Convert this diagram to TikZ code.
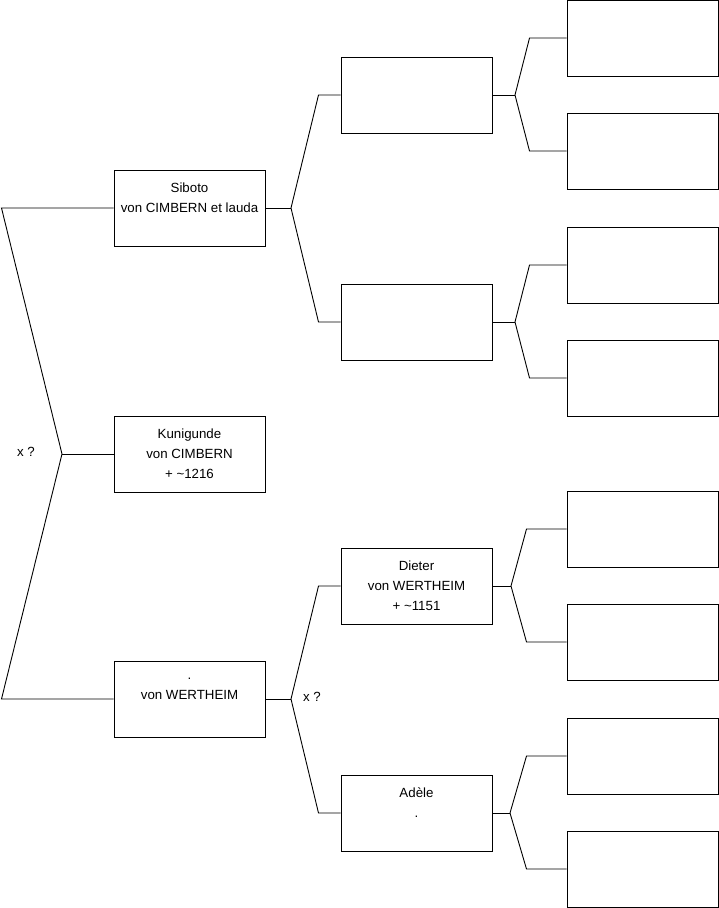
\documentclass[tikz,border=0pt]{standalone}
\usepackage{fontspec}
\setmainfont{Liberation Sans}
\begin{document}
\begin{tikzpicture}[x=1pt,y=-1pt,
  person/.style={draw,line width=1pt,minimum width=151pt,minimum height=76pt,
    inner sep=0pt,align=center,font=\fontsize{13.3}{20}\selectfont},
  link/.style={line width=0.9pt},
  note/.style={font=\fontsize{13.3}{15}\selectfont}]
\useasboundingbox (0,0) rectangle (719,908);
% Generation 1
\node[person] (sib) at (189.5,208) {Siboto\\von CIMBERN et lauda\\\mbox{}};
\node[person] (kun) at (189.5,454) {Kunigunde\\von CIMBERN\\+ \textasciitilde1216};
\node[person] (wer) at (189.5,699) {.\\von WERTHEIM\\\mbox{}};
% Generation 2
\node[person] (pa) at (416.5,95) {};
\node[person] (pb) at (416.5,322) {};
\node[person] (die) at (416.5,586) {Dieter\\von WERTHEIM\\+ \textasciitilde1151};
\node[person] (ade) at (416.5,813) {Ad\`ele\\.\\\mbox{}};
% Generation 3
\foreach \n/\y in {ga/38,gb/151,gc/265,gd/378,ge/529,gf/642,gg/756,gh/869}
  \node[person] (\n) at (642.5,\y) {};
% Forks
\coordinate (root) at (62,454);
\coordinate (fsib) at (291,208);
\coordinate (fwer) at (291,699);
\coordinate (fpa) at (515,95);
\coordinate (fpb) at (515,322);
\coordinate (fdie) at (511,586);
\coordinate (fade) at (510,813);
\draw[link] (sib.west) -- ++(-112,0) -- (root) -- ([xshift=-112pt]wer.west) -- (wer.west);
\draw[link] (root) -- (kun.west);
\node[note] (xa) at (26,452) {x ?};
\draw[link] (pa.west) -- ++(-22,0) -- (fsib) -- ([xshift=-22pt]pb.west) -- (pb.west);
\draw[link] (sib.east) -- (fsib);
\draw[link] (die.west) -- ++(-22,0) -- (fwer) -- ([xshift=-22pt]ade.west) -- (ade.west);
\draw[link] (wer.east) -- (fwer);
\node[note] (xb) at (312,697) {x ?};
\draw[link] (ga.west) -- ++(-37,0) -- (fpa) -- ([xshift=-37pt]gb.west) -- (gb.west);
\draw[link] (pa.east) -- (fpa);
\draw[link] (gc.west) -- ++(-37,0) -- (fpb) -- ([xshift=-37pt]gd.west) -- (gd.west);
\draw[link] (pb.east) -- (fpb);
\draw[link] (ge.west) -- ++(-40,0) -- (fdie) -- ([xshift=-40pt]gf.west) -- (gf.west);
\draw[link] (die.east) -- (fdie);
\draw[link] (gg.west) -- ++(-40,0) -- (fade) -- ([xshift=-40pt]gh.west) -- (gh.west);
\draw[link] (ade.east) -- (fade);
\end{tikzpicture}
\end{document}
